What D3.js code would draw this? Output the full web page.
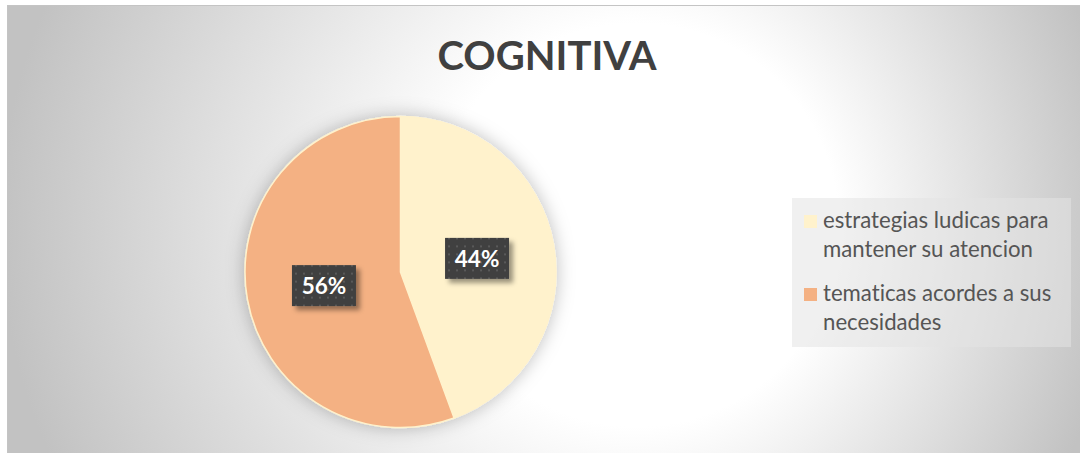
<!DOCTYPE html>
<html>
<head>
<meta charset="utf-8">
<script src="https://cdn.jsdelivr.net/npm/d3@7"></script>
<style>
  html, body { margin: 0; padding: 0; background: #ffffff; }
  svg { display: block; }
  text { font-variant-ligatures: none; font-feature-settings: "liga" 0, "clig" 0; }
</style>
</head>
<body>
<svg id="chart" width="1080" height="453"></svg>
<script>
// ---- data ----
const title = "COGNITIVA";
const categories = ["estrategias ludicas para mantener su atencion", "tematicas acordes a sus necesidades"];
const values = [44.4, 55.6];
const sliceColors = ["#FFF2CC", "#F4B183"];

// ---- drawing ----
const svg = d3.select("#chart");
const W = 1080, H = 453;
const defs = svg.append("defs");

// background gradient
const bg = defs.append("radialGradient")
  .attr("id", "bgGrad").attr("gradientUnits", "userSpaceOnUse")
  .attr("cx", 560).attr("cy", 225).attr("r", 560)
  .attr("fx", 680).attr("fy", 225);
bg.append("stop").attr("offset", 0).attr("stop-color", "#ffffff");
bg.append("stop").attr("offset", 0.36).attr("stop-color", "#ffffff");
bg.append("stop").attr("offset", 1).attr("stop-color", "#c2c2c2");

// pie glow
const glow = defs.append("filter").attr("id", "pieGlow")
  .attr("x", "-20%").attr("y", "-20%").attr("width", "140%").attr("height", "140%");
glow.append("feDropShadow").attr("dx", 0).attr("dy", 0).attr("stdDeviation", 9)
  .attr("flood-color", "#000").attr("flood-opacity", 0.26);

// label shadow
const ls = defs.append("filter").attr("id", "lblShadow")
  .attr("x", "-30%").attr("y", "-30%").attr("width", "160%").attr("height", "160%");
ls.append("feDropShadow").attr("dx", 4).attr("dy", 4).attr("stdDeviation", 2.5)
  .attr("flood-color", "#000").attr("flood-opacity", 0.4);

// dotted pattern
const pat = defs.append("pattern").attr("id", "dots").attr("patternUnits", "userSpaceOnUse")
  .attr("width", 8).attr("height", 8);
pat.append("rect").attr("width", 8).attr("height", 8).attr("fill", "#404040");
pat.append("rect").attr("x", 3).attr("y", 3).attr("width", 2).attr("height", 2).attr("fill", "#5a5a5a");

// chart area
svg.append("rect").attr("x", 7.5).attr("y", 5.5).attr("width", W + 20).attr("height", H + 20)
  .attr("fill", "url(#bgGrad)").attr("stroke", "#c4c4c4").attr("stroke-width", 1);

// title
svg.append("text").attr("x", 547).attr("y", 70)
  .attr("text-anchor", "middle")
  .attr("font-family", "Lato, 'Open Sans', sans-serif")
  .attr("font-weight", "bold").attr("font-size", 40)
  .attr("fill", "#404040").text(title);

// pie
const cx = 400.5, cy = 272, R = 155.5;
const color = d3.scaleOrdinal().domain(categories).range(sliceColors);
const pie = d3.pie().sort(null).value(d => d.v);
const data = categories.map((c, i) => ({ c, v: values[i] }));
const arcs = pie(data);
const arc = d3.arc().innerRadius(0).outerRadius(R);
const total = d3.sum(values);

const g = svg.append("g").attr("transform", `translate(${cx},${cy})`);
g.append("g").attr("filter", "url(#pieGlow)")
  .selectAll("path").data(arcs).join("path")
  .attr("d", arc)
  .attr("fill", d => color(d.data.c))
  .attr("stroke", "#FFF2CC").attr("stroke-width", 1.5);

// labels
const bw = 64, bh = 41;
const lbl = g.selectAll("g.lbl").data(arcs).join("g").attr("class", "lbl")
  .attr("transform", d => { const [x, y] = arc.centroid(d); return `translate(${x},${y})`; });
lbl.append("rect").attr("x", -bw / 2).attr("y", -bh / 2).attr("width", bw).attr("height", bh)
  .attr("fill", "url(#dots)").attr("filter", "url(#lblShadow)");
lbl.append("text").attr("text-anchor", "middle").attr("dy", "0.36em")
  .attr("font-family", "Lato, 'Open Sans', sans-serif")
  .attr("font-weight", "bold").attr("font-size", 22.5).attr("fill", "#ffffff")
  .text(d => Math.round(d.data.v / total * 100) + "%");

// legend
svg.append("rect").attr("x", 792).attr("y", 198).attr("width", 279).attr("height", 149)
  .attr("fill", "#e4e4e4").attr("opacity", 0.55);

const legendTop = [215, 288];
const lineH = 28.5;
categories.forEach((c, i) => {
  const y0 = legendTop[i];
  svg.append("rect").attr("x", 804).attr("y", y0).attr("width", 13).attr("height", 13)
    .attr("fill", color(c));
  const t = svg.append("text").attr("x", 823).attr("y", y0 + 13)
    .attr("font-family", "Lato, 'Open Sans', sans-serif")
    .attr("font-size", 22.2).attr("fill", "#555555");
  // wrap words
  const words = c.split(" ");
  let line = [], lineNo = 0;
  let ts = t.append("tspan").attr("x", 823).attr("y", y0 + 13);
  words.forEach(w => {
    line.push(w);
    ts.text(line.join(" "));
    if (ts.node().getComputedTextLength() > 245 && line.length > 1) {
      line.pop();
      ts.text(line.join(" "));
      line = [w];
      lineNo++;
      ts = t.append("tspan").attr("x", 823).attr("y", y0 + 13 + lineNo * lineH).text(w);
    }
  });
});
</script>
</body>
</html>
